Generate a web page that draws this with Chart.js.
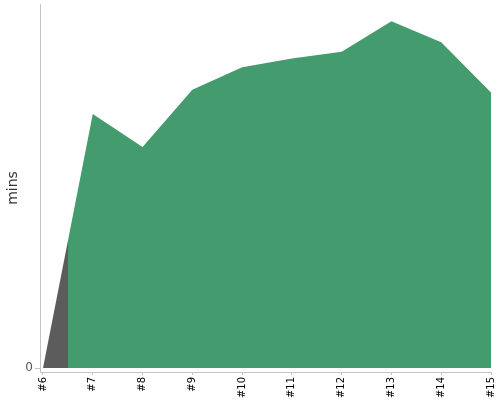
<!DOCTYPE html>
<html>
<head>
<meta charset="utf-8">
<script src="https://cdn.jsdelivr.net/npm/chart.js@4/dist/chart.umd.min.js"></script>
<style>
  html, body { margin: 0; padding: 0; background: #fff; }
</style>
</head>
<body>
<canvas id="chart" width="500" height="400"></canvas>
<script>
// sprint labels along the x axis
const sprints = ['#6', '#7', '#8', '#9', '#10', '#11', '#12', '#13', '#14', '#15'];
// time per sprint (mins)
const minutes = [0, 29.3, 25.5, 32.1, 34.7, 35.7, 36.5, 40.0, 37.6, 31.8];
const yTicks = [0];
const yMax = 42;

const green = '#449B6D';
const gray = '#5C5C5C';
const axisColor = '#C4C4C4';
const font = 'DejaVu Sans, sans-serif';

// first half of the first interval is drawn grey, the rest green
function splitFill(ctx) {
  const chart = ctx.chart;
  const area = chart.chartArea;
  const xs = chart.scales.x;
  if (!area || !xs) return green;
  const split = (xs.getPixelForValue(0) + xs.getPixelForValue(1)) / 2;
  const g = chart.ctx.createLinearGradient(area.left, 0, area.right, 0);
  const t = (split - area.left) / (area.right - area.left);
  g.addColorStop(0, gray);
  g.addColorStop(t, gray);
  g.addColorStop(t, green);
  g.addColorStop(1, green);
  return g;
}

new Chart(document.getElementById('chart'), {
  type: 'line',
  data: {
    datasets: [{
      data: minutes.map((v, i) => ({ x: i, y: v })),
      fill: 'origin',
      backgroundColor: splitFill,
      borderWidth: 0,
      pointRadius: 0,
      tension: 0
    }]
  },
  options: {
    responsive: false,
    animation: false,
    layout: { autoPadding: false, padding: { top: 4, right: 9, left: 0, bottom: 0 } },
    plugins: { legend: { display: false }, tooltip: { enabled: false } },
    scales: {
      x: {
        type: 'linear',
        min: -0.06,
        max: sprints.length - 1,
        afterBuildTicks: s => { s.ticks = sprints.map((_, i) => ({ value: i })); },
        afterFit: s => { s.height = 28; s.paddingLeft = 0; s.paddingRight = 0; },
        ticks: {
          callback: v => sprints[v],
          autoSkip: false,
          minRotation: 90,
          maxRotation: 90,
          padding: 2,
          color: '#000',
          font: { family: font, size: 10 }
        },
        grid: { drawOnChartArea: false, drawTicks: true, tickLength: 3, color: axisColor },
        border: { display: true, color: axisColor }
      },
      y: {
        min: -0.46,
        max: yMax,
        afterBuildTicks: s => { s.ticks = yTicks.map(v => ({ value: v })); },
        afterFit: s => { s.width = 40; s.paddingTop = 0; s.paddingBottom = 0; },
        title: {
          display: true,
          text: 'mins',
          color: '#333',
          font: { family: font, size: 14 },
          padding: { top: 5, bottom: 4 }
        },
        ticks: {
          color: '#555',
          padding: 2,
          font: { family: font, size: 12 }
        },
        grid: { drawOnChartArea: false, drawTicks: true, tickLength: 5, color: axisColor },
        border: { display: true, color: axisColor }
      }
    }
  }
});
</script>
</body>
</html>
